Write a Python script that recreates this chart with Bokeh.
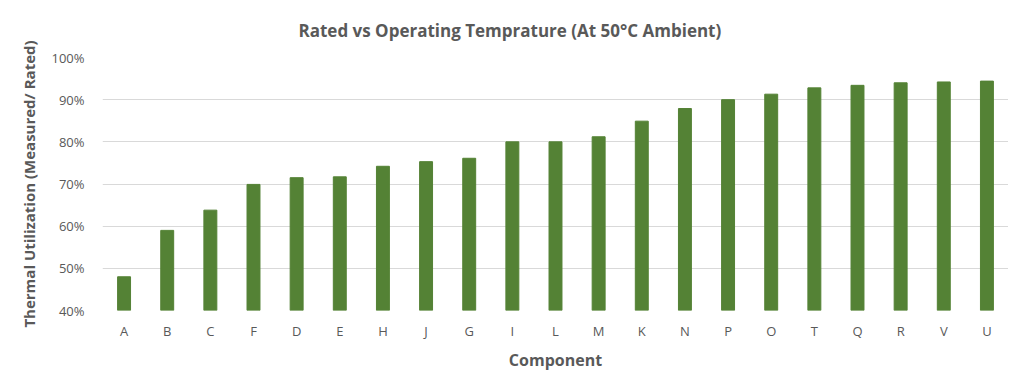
from bokeh.plotting import figure
from bokeh.models import NumeralTickFormatter, FixedTicker
from bokeh.embed import file_html
from bokeh.resources import INLINE

components = ["A", "B", "C", "F", "D", "E", "H", "J", "G", "I", "L",
              "M", "K", "N", "P", "O", "T", "Q", "R", "V", "U"]
utilization = [0.48, 0.59, 0.638, 0.699, 0.715, 0.717, 0.742, 0.753, 0.761, 0.800, 0.800,
               0.812, 0.849, 0.879, 0.900, 0.913, 0.928, 0.934, 0.940, 0.942, 0.944]
y_ticks = [0.4, 0.5, 0.6, 0.7, 0.8, 0.9, 1.0]

FONT = "Open Sans"
TXT = "#595959"

p = figure(x_range=components, y_range=(0.4, 1.0), width=1008, height=373,
           output_backend="svg", toolbar_location=None,
           title="Rated vs Operating Temprature (At 50°C Ambient)")
p.min_border_left = 102
p.min_border_right = 0
p.min_border_top = 57
p.min_border_bottom = 63

p.vbar(x=components, top=utilization, bottom=0.4, width=0.3, color="#548235")

p.title.align = "left"
p.title.offset = 196
p.title.text_font = FONT
p.title.text_font_size = "17px"
p.title.text_font_style = "bold"
p.title.text_color = TXT
p.title.standoff = 31

p.yaxis.ticker = FixedTicker(ticks=y_ticks)
p.yaxis.formatter = NumeralTickFormatter(format="0%")
p.yaxis.axis_label = "Thermal Utilization (Measured/ Rated)"
p.xaxis.axis_label = "Component"
for ax in (p.xaxis, p.yaxis):
    ax.axis_line_color = None
    ax.major_tick_line_color = None
    ax.minor_tick_line_color = None
    ax.major_label_text_font = FONT
    ax.major_label_text_font_size = "13px"
    ax.major_label_text_color = TXT
    ax.axis_label_text_font = FONT
    ax.axis_label_text_font_style = "bold"
    ax.axis_label_text_color = TXT
p.yaxis.axis_label_text_font_size = "15px"
p.xaxis.axis_label_text_font_size = "16px"
p.yaxis.major_label_standoff = 12
p.xaxis.major_label_standoff = 5
p.xaxis.axis_label_standoff = 6
p.yaxis.axis_label_standoff = 9

p.xgrid.grid_line_color = None
p.ygrid.grid_line_color = "#d9d9d9"
p.ygrid.grid_line_width = 1
p.outline_line_color = None
p.border_fill_color = "white"
p.background_fill_color = "white"
p.x_range.range_padding = 0

open("out.html", "w").write(file_html(p, INLINE))
